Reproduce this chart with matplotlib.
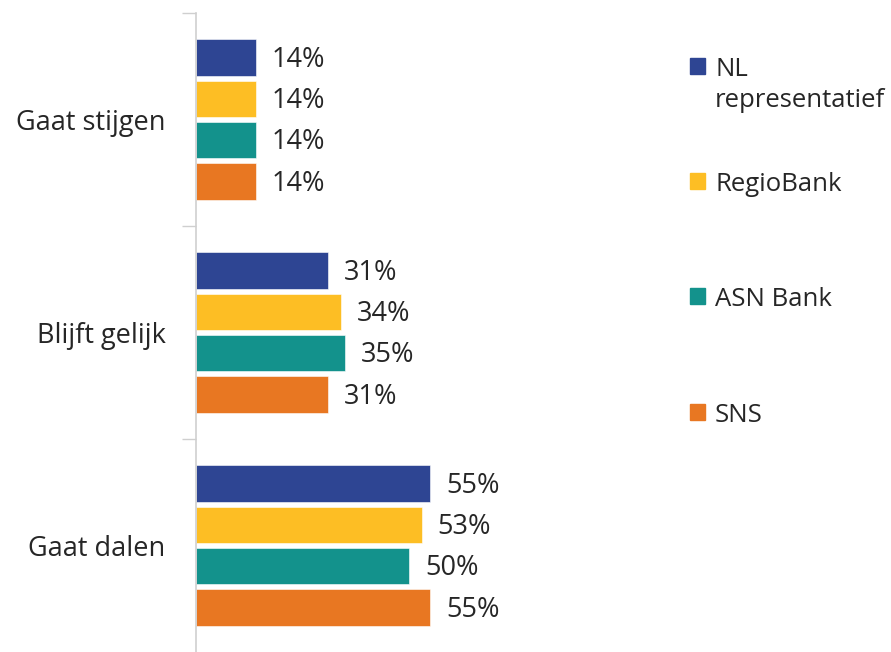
import matplotlib
matplotlib.use("Agg")
import numpy as np
from matplotlib import pyplot as plt
from matplotlib.patches import Rectangle

categories = ["Gaat stijgen", "Blijft gelijk", "Gaat dalen"]
series = ["NL\nrepresentatief", "RegioBank", "ASN Bank", "SNS"]
values = {
    "NL\nrepresentatief": [14, 31, 55],
    "RegioBank": [14, 34, 53],
    "ASN Bank": [14, 35, 50],
    "SNS": [14, 31, 55],
}
colors = ["#2E4593", "#FDBE24", "#13928C", "#E87722"]

plt.rcParams['font.family'] = ['Open Sans', 'DejaVu Sans']
text_color = "#262626"

fig = plt.figure(figsize=(8.91, 6.52), dpi=100)
ax = fig.add_axes([196 / 891, 0, 426 / 891, 1 - 13 / 652])

y = np.arange(len(categories))
step = 0.194
bar_h = 0.17
for i, name in enumerate(series):
    offs = (i - 1.5) * step
    bars = ax.barh(y + offs, values[name], height=bar_h, color=colors[i],
                   edgecolor="white", linewidth=0.4)
    for b, v in zip(bars, values[name]):
        ax.annotate(f"{v}%", (b.get_width(), b.get_y() + b.get_height() / 2),
                    xytext=(11.5, -1.5), textcoords="offset points",
                    va="center", ha="left", fontsize=19.5, color=text_color)

ax.set_xlim(0, 100)
ax.set_ylim(2.5, -0.5)
ax.set_xticks([])
ax.set_yticks(y)
ax.set_yticklabels(categories, fontsize=19.5, color=text_color)
ax.tick_params(axis="y", length=0, pad=22)
ax.set_yticks([-0.5, 0.5, 1.5], minor=True)
ax.tick_params(axis="y", which="minor", length=10, color="#cfcfcf", width=1)
for s in ["top", "right", "bottom"]:
    ax.spines[s].set_visible(False)
ax.spines["left"].set_color("#cfcfcf")
ax.spines["left"].set_linewidth(1.2)

# legend
leg_y = [66, 181, 296, 412]
for i, name in enumerate(series):
    yc = leg_y[i]
    fig.patches.append(Rectangle((690 / 891, 1 - (yc + 8) / 652), 15 / 891, 16 / 652,
                                 transform=fig.transFigure, color=colors[i]))
    fig.text(715 / 891, 1 - (yc - 9) / 652, name, fontsize=18.5, color=text_color,
             va="top", ha="left", linespacing=1.3)

fig.savefig("out.png", dpi=100)
